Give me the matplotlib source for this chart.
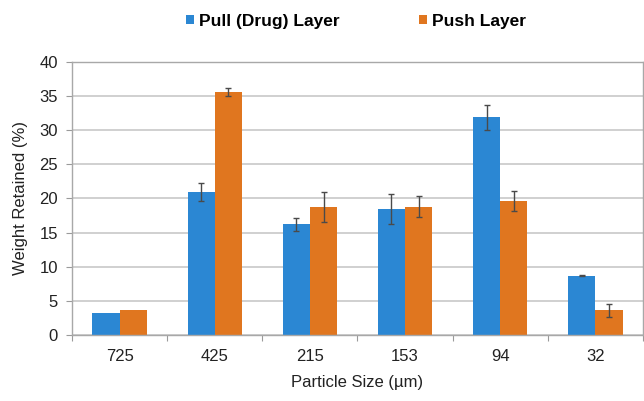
import numpy as np
import matplotlib
matplotlib.use('Agg')
import matplotlib.pyplot as plt

plt.rcParams['font.family'] = ['Liberation Sans', 'DejaVu Sans']

sizes = ['725', '425', '215', '153', '94', '32']
pull = [3.2, 21.0, 16.2, 18.5, 31.9, 8.7]
pull_err = [0.0, 1.3, 0.9, 2.2, 1.8, 0.1]
push = [3.7, 35.6, 18.8, 18.8, 19.6, 3.6]
push_err = [0.0, 0.6, 2.2, 1.5, 1.5, 1.0]

blue = '#2B87D3'
orange = '#E0761F'
grid_c = '#C8C8C8'

fig = plt.figure(figsize=(6.44, 4.01), dpi=100)
ax = fig.add_axes([0.1118, 0.1646, 0.8866, 0.6808])

x = np.arange(len(sizes))
w = 0.286
ekw = dict(ecolor='#4A4A4A', elinewidth=1.0, capsize=2.5, capthick=1.0)
b1 = ax.bar(x - w / 2, pull, w, yerr=[e if e > 0 else np.nan for e in pull_err],
            color=blue, label='Pull (Drug) Layer', error_kw=ekw, zorder=2)
b2 = ax.bar(x + w / 2, push, w, yerr=[e if e > 0 else np.nan for e in push_err],
            color=orange, label='Push Layer', error_kw=ekw, zorder=2)

ax.set_xlim(-0.5, len(sizes) - 0.5)
ax.set_ylim(0, 40)
ax.set_yticks(range(0, 41, 5))
ax.set_xticks(np.arange(-0.5, len(sizes), 1.0), minor=False)
ax.set_xticklabels([])
ax.set_xticks(x, minor=True)
ax.set_xticklabels(sizes, minor=True)
ax.tick_params(axis='x', which='major', length=4, color='#9A9A9A', direction='out')
ax.tick_params(axis='x', which='minor', length=0, pad=10, labelsize=12, labelcolor='#222222')
ax.tick_params(axis='y', length=4, color='#9A9A9A', labelsize=12, labelcolor='#222222', pad=6)
ax.yaxis.grid(True, color=grid_c, lw=1.2, zorder=0)
ax.set_axisbelow(True)
for s in ax.spines.values():
    s.set_color('#A8A8A8')
    s.set_linewidth(1.0)

ax.set_xlabel('Particle Size (µm)', fontsize=12, color='#222222', labelpad=8)
ax.set_ylabel('Weight Retained (%)', fontsize=12, color='#222222', labelpad=8)

fig.legend(handles=[b1, b2], loc='upper center', bbox_to_anchor=(0.553, 1.005), ncol=2,
           frameon=False, handlelength=0.45, handleheight=0.45, handletextpad=0.3,
           columnspacing=4.6, prop={'weight': 'bold', 'size': 12.5})

fig.savefig('out.png', dpi=100)
